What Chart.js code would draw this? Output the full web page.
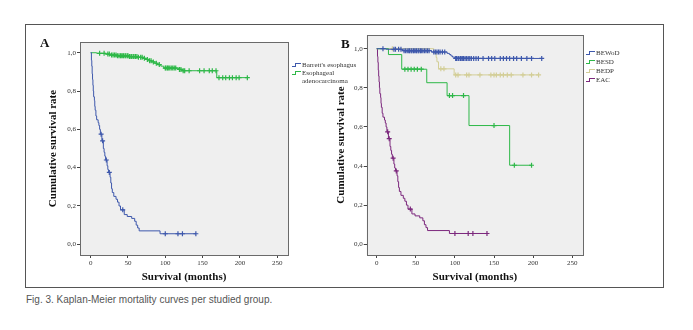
<!DOCTYPE html>
<html>
<head>
<meta charset="utf-8">
<script src="https://cdn.jsdelivr.net/npm/chart.js@4/dist/chart.umd.min.js"></script>
<style>
body { margin: 0; background: #fff; width: 693px; height: 330px; position: relative; overflow: hidden; }
#frame { position: absolute; left: 25px; top: 24px; width: 637px; height: 262px; border: 1px solid #555; }
canvas { position: absolute; }
.tag { position: absolute; font: bold 13px/13px "Liberation Serif", serif; color: #111; }
.legend { position: absolute; font-family: "Liberation Serif", serif; font-size: 7px; color: #333; }
.legend .row { position: relative; padding-left: 10px; white-space: nowrap; }
.legend .lo { position: absolute; left: 0; width: 3px; border-top: 1px solid; }
.legend .hi { position: absolute; left: 3px; width: 5px; height: 3px; border-top: 1px solid; border-left: 1px solid; }
#caption { position: absolute; left: 26px; top: 294px; font: 10px "Liberation Sans", sans-serif; color: #555; }
</style>
</head>
<body>
<div id="frame"></div>
<canvas id="chartA" width="300" height="263" style="left:25px;top:24px"></canvas>
<canvas id="chartB" width="338" height="263" style="left:325px;top:24px"></canvas>
<div class="tag" style="left:40px;top:36px">A</div>
<div class="tag" style="left:341px;top:37px">B</div>
<div class="legend" id="legendA" style="left:292px;top:61px;line-height:8px"></div>
<div class="legend" id="legendB" style="left:586px;top:48.5px;line-height:9.3px"></div>
<div id="caption">Fig. 3. Kaplan-Meier mortality curves per studied group.</div>

<script>
// axis ticks
const xTickVals = [0, 50, 100, 150, 200, 250];
const yTickVals = [0, 0.2, 0.4, 0.6, 0.8, 1.0];
const yTickLabels = ['0,0', '0,2', '0,4', '0,6', '0,8', '1,0'];

// EAC (blue in A, purple in B) - event times / survival after the event
const eacTime = [0, 1, 1.5, 2, 2.5, 3, 3.5, 4, 5, 5.5, 6, 7, 8, 10, 11, 12, 13, 15, 17, 18, 19, 20, 22, 23, 24, 26, 27, 28, 29, 31, 34, 36, 38, 40, 45, 49, 55, 59, 61, 63, 65, 93];
const eacSurv = [1.0, 0.96, 0.93, 0.89, 0.86, 0.83, 0.8, 0.77, 0.75, 0.72, 0.7, 0.67, 0.65, 0.635, 0.62, 0.6, 0.575, 0.54, 0.5, 0.48, 0.46, 0.44, 0.41, 0.39, 0.375, 0.35, 0.32, 0.29, 0.27, 0.25, 0.235, 0.22, 0.2, 0.18, 0.155, 0.145, 0.135, 0.12, 0.1, 0.085, 0.07, 0.055];
const eacCensored = [14, 16, 21, 25, 43, 100, 117, 123, 141];

// Esophageal adenocarcinoma label in A (green)
const adenoTime = [0, 8, 20, 26, 35, 52, 64, 70, 74, 78, 82, 86, 90, 94, 98, 118, 122, 169];
const adenoSurv = [1.0, 0.997, 0.993, 0.988, 0.984, 0.98, 0.976, 0.971, 0.965, 0.958, 0.952, 0.945, 0.938, 0.93, 0.92, 0.913, 0.906, 0.87];
const adenoCensored = [12, 18, 23, 25, 28, 30, 32, 34, 36, 38, 40, 41, 43, 44, 46, 47, 49, 50, 52, 54, 55, 57, 58, 60, 62, 64, 67, 69, 72, 76, 79, 81, 84, 88, 92, 100, 101, 103, 104, 106, 108, 110, 112, 114, 119, 121, 124, 126, 132, 146, 152, 159, 163, 168, 172, 177, 181, 186, 190, 195, 199, 210];

// B groups
const bewodTime = [0, 12, 33, 70, 90, 93, 95, 97, 100];
const bewodSurv = [1.0, 0.997, 0.99, 0.983, 0.976, 0.97, 0.963, 0.957, 0.95];
const bewodCensored = [8, 22, 24, 28, 31, 35, 37, 39, 41, 42, 44, 45, 47, 48, 50, 51, 53, 54, 56, 57, 59, 61, 63, 65, 67, 73, 75, 77, 79, 81, 84, 87, 101, 102, 104, 105, 107, 108, 110, 111, 113, 115, 117, 119, 121, 124, 127, 130, 136, 143, 147, 151, 158, 162, 166, 170, 175, 179, 185, 192, 198, 211];

const besdTime = [0, 15, 32, 64, 90, 118, 170];
const besdSurv = [1.0, 0.97, 0.895, 0.826, 0.76, 0.607, 0.404];
const besdCensored = [36, 40, 44, 48, 52, 57, 93, 97, 111, 150, 176, 198];

const bedpTime = [0, 73, 76, 77, 79, 99];
const bedpSurv = [1.0, 0.977, 0.955, 0.933, 0.897, 0.866];
const bedpCensored = [20, 82, 86, 101, 104, 115, 118, 132, 146, 150, 153, 158, 162, 167, 172, 187, 198, 207];

const BLUE = '#3E58AC', GREEN = '#2EB848', BEIGE = '#D3CE97', PURPLE = '#7C287D';

function survAt(times, surv, t) {
    let s = surv[0];
    for (let i = 0; i < times.length; i++) if (times[i] <= t) s = surv[i];
    return s;
}

// KM curve + censor marks as two datasets
function kmDatasets(times, surv, cens, color, order) {
    const pts = times.map((t, i) => ({ x: t, y: surv[i] }));
    const last = Math.max(times[times.length - 1], cens[cens.length - 1]);
    pts.push({ x: last, y: survAt(times, surv, last) });
    return [
        { data: pts, showLine: true, stepped: true, borderColor: color, borderWidth: 1, pointRadius: 0, order: order },
        { data: cens.map(t => ({ x: t, y: survAt(times, surv, t) })), showLine: false, pointStyle: 'cross',
          pointRadius: 2.5, borderColor: color, borderWidth: 1.2, order: order }
    ];
}

const plotBox = {
    id: 'plotBox',
    beforeDraw(chart) {
        const a = chart.chartArea, ctx = chart.ctx;
        ctx.save();
        ctx.fillStyle = '#EFEFEF';
        ctx.fillRect(a.left, a.top, a.right - a.left, a.bottom - a.top);
        ctx.restore();
    },
    afterDraw(chart) {
        const a = chart.chartArea, ctx = chart.ctx;
        ctx.save();
        ctx.strokeStyle = '#6a6a6a';
        ctx.lineWidth = 1;
        ctx.strokeRect(Math.round(a.left) + 0.5, Math.round(a.top) + 0.5, Math.round(a.right - a.left), Math.round(a.bottom - a.top));
        ctx.restore();
    }
};

function makeChart(id, datasets, g) {
    const tickFont = { family: '"Liberation Serif", serif', size: 7 };
    const titleFont = { family: '"Liberation Serif", serif', size: 11, weight: 'bold' };
    return new Chart(document.getElementById(id), {
        type: 'scatter',
        data: { datasets: datasets },
        plugins: [plotBox],
        options: {
            responsive: false,
            animation: false,
            layout: { padding: { left: 0, top: g.top, right: g.right, bottom: 0 } },
            plugins: { legend: { display: false }, tooltip: { enabled: false } },
            scales: {
                x: {
                    type: 'linear', min: g.xMin, max: g.xMax,
                    afterBuildTicks: s => { s.ticks = xTickVals.map(v => ({ value: v })); },
                    afterFit: s => { s.height = 32; },
                    grid: { drawOnChartArea: false, tickLength: 3, color: '#444' },
                    border: { display: false },
                    ticks: { font: tickFont, color: '#333', padding: 1, maxRotation: 0 },
                    title: { display: true, text: 'Survival (months)', font: titleFont, color: '#111', padding: { top: 0, bottom: 3.4 } }
                },
                y: {
                    type: 'linear', min: g.yMin, max: g.yMax,
                    afterBuildTicks: s => { s.ticks = yTickVals.map(v => ({ value: v })); },
                    afterFit: s => { s.width = g.yWidth; },
                    grid: { drawOnChartArea: false, tickLength: 3, color: '#444' },
                    border: { display: false },
                    ticks: { font: tickFont, color: '#333', padding: 1,
                             callback: v => yTickLabels[yTickVals.findIndex(t => Math.abs(t - v) < 1e-6)] },
                    title: { display: true, text: 'Cumulative survival rate', font: titleFont, color: '#111', padding: { top: g.yTitlePad, bottom: 0 } }
                }
            }
        }
    });
}

makeChart('chartA', [
    ...kmDatasets(eacTime, eacSurv, eacCensored, BLUE, 1),
    ...kmDatasets(adenoTime, adenoSurv, adenoCensored, GREEN, 2)
], { top: 18, right: 37, yWidth: 55, yTitlePad: 21.4, xMin: -14.3, xMax: 264.5, yMin: -0.056, yMax: 1.056 });

makeChart('chartB', [
    ...kmDatasets(bewodTime, bewodSurv, bewodCensored, BLUE, 1),
    ...kmDatasets(besdTime, besdSurv, besdCensored, GREEN, 2),
    ...kmDatasets(bedpTime, bedpSurv, bedpCensored, BEIGE, 3),
    ...kmDatasets(eacTime, eacSurv, eacCensored, PURPLE, 4)
], { top: 11, right: 80, yWidth: 41.7, yTitlePad: 9.8, xMin: -12.8, xMax: 263.8, yMin: -0.055, yMax: 1.07 });

// legends
function legend(id, labels, colors) {
    const box = document.getElementById(id);
    labels.forEach((lines, i) => {
        lines.forEach((txt, j) => {
            const row = document.createElement('div');
            row.className = 'row';
            if (j === 0) {
                row.innerHTML = '<span class="lo" style="top:5px;border-color:' + colors[i] + '"></span>' +
                                '<span class="hi" style="top:2px;border-color:' + colors[i] + '"></span>';
            }
            row.appendChild(document.createTextNode(txt));
            box.appendChild(row);
        });
    });
}
legend('legendA', [["Barrett's esophagus"], ['Esophageal', 'adenocarcinoma']], [BLUE, GREEN]);
legend('legendB', [['BEWoD'], ['BESD'], ['BEDP'], ['EAC']], [BLUE, GREEN, BEIGE, PURPLE]);
</script>
</body>
</html>
